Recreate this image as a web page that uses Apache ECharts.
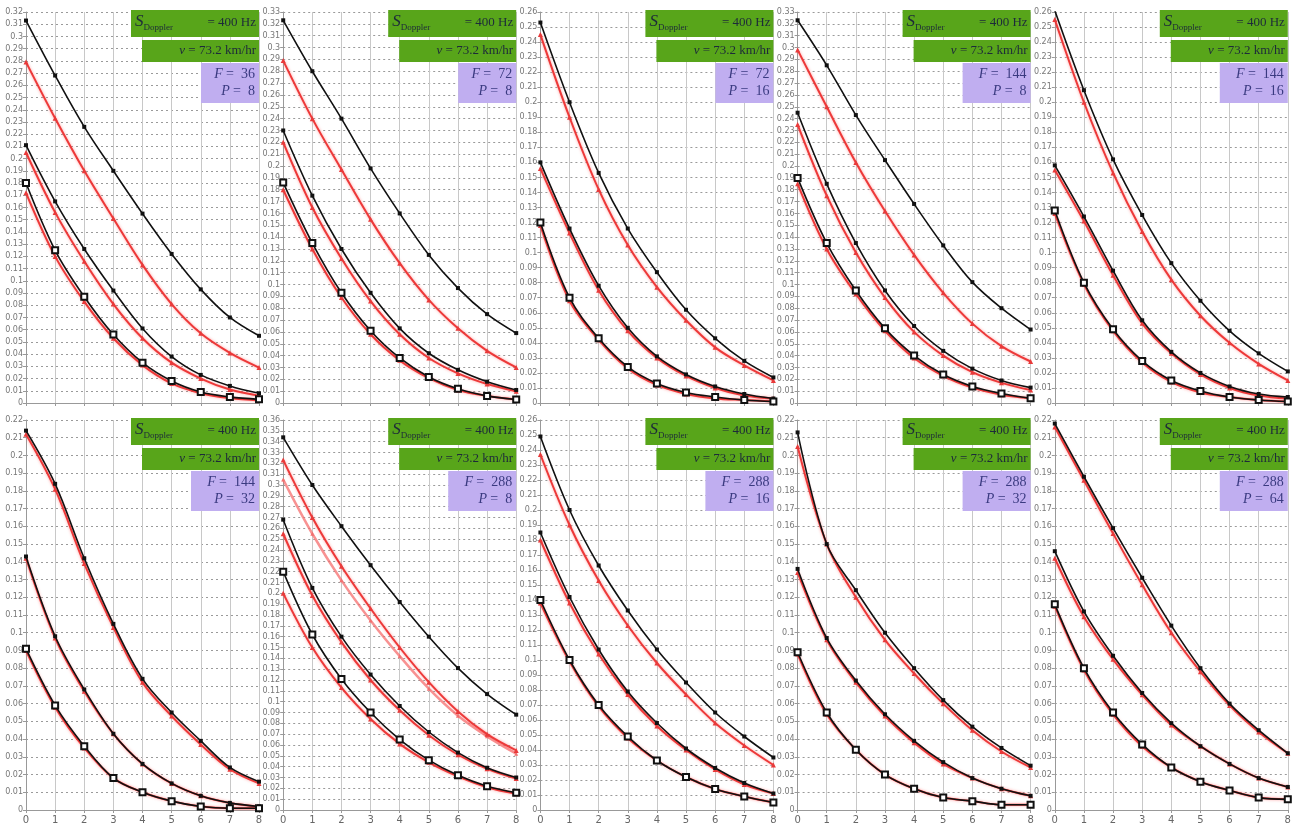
<!DOCTYPE html>
<html><head><meta charset="utf-8">
<script src="https://cdn.jsdelivr.net/npm/echarts@6/dist/echarts.min.js"></script>
<style>html,body{margin:0;padding:0;background:#fff}#c{width:1304px;height:827px}</style>
</head><body><div id="c"></div>
<script>
// x values (range index)
const xs = [0,1,2,3,4,5,6,7,8];
// panel parameters
const panelF = [36,72,72,144,144,144,288,288,288,288];
const panelP = [8,8,16,8,16,32,8,16,32,64];
const panelYMax = [0.32,0.33,0.26,0.33,0.26,0.22,0.36,0.26,0.22,0.22];
const sDoppler = '400 Hz';
const speed = '73.2 km/hr';

// Panel 1 (F=36, P=8)
const p1_black1 = [0.313,0.268,0.226,0.19,0.155,0.122,0.093,0.07,0.055];
const p1_red1   = [0.279,0.233,0.19,0.151,0.113,0.081,0.057,0.041,0.029];
const p1_black2 = [0.211,0.165,0.126,0.092,0.061,0.038,0.023,0.014,0.008];
const p1_red2   = [0.205,0.156,0.116,0.081,0.053,0.033,0.02,0.011,0.006];
const p1_black3 = [0.18,0.125,0.087,0.056,0.033,0.018,0.009,0.005,0.003];
const p1_red3   = [0.172,0.12,0.083,0.053,0.031,0.016,0.008,0.004,0.002];
// Panel 2 (F=72, P=8)
const p2_black1 = [0.323,0.28,0.24,0.198,0.16,0.125,0.097,0.075,0.059];
const p2_red1   = [0.289,0.24,0.197,0.155,0.118,0.087,0.063,0.044,0.03];
const p2_black2 = [0.23,0.175,0.13,0.093,0.063,0.042,0.028,0.018,0.011];
const p2_red2   = [0.22,0.165,0.122,0.086,0.058,0.038,0.025,0.016,0.01];
const p2_black3 = [0.186,0.135,0.093,0.061,0.038,0.022,0.012,0.006,0.003];
const p2_red3   = [0.18,0.13,0.089,0.058,0.036,0.021,0.011,0.006,0.003];
// Panel 3 (F=72, P=16)
const p3_black1 = [0.253,0.2,0.153,0.116,0.087,0.062,0.043,0.028,0.017];
const p3_red1   = [0.245,0.19,0.142,0.105,0.077,0.055,0.037,0.025,0.015];
const p3_black2 = [0.16,0.116,0.078,0.05,0.031,0.019,0.011,0.006,0.003];
const p3_red2   = [0.156,0.113,0.075,0.048,0.03,0.018,0.01,0.005,0.003];
const p3_black3 = [0.12,0.07,0.043,0.024,0.013,0.007,0.004,0.002,0.001];
const p3_red3   = [0.118,0.068,0.042,0.023,0.012,0.006,0.003,0.002,0.001];
// Panel 4 (F=144, P=8)
const p4_black1 = [0.323,0.285,0.243,0.205,0.168,0.133,0.102,0.08,0.062];
const p4_red1   = [0.298,0.25,0.203,0.162,0.125,0.093,0.067,0.048,0.035];
const p4_black2 = [0.245,0.185,0.135,0.095,0.065,0.044,0.029,0.019,0.013];
const p4_red2   = [0.235,0.175,0.127,0.089,0.06,0.04,0.026,0.017,0.011];
const p4_black3 = [0.19,0.135,0.095,0.063,0.04,0.024,0.014,0.008,0.004];
const p4_red3   = [0.185,0.13,0.092,0.061,0.038,0.023,0.013,0.007,0.004];
// Panel 5 (F=144, P=16)
const p5_black1 = [0.261,0.208,0.162,0.125,0.093,0.068,0.048,0.033,0.021];
const p5_red1   = [0.255,0.2,0.153,0.114,0.082,0.058,0.04,0.026,0.015];
const p5_black2 = [0.158,0.124,0.088,0.055,0.034,0.02,0.011,0.006,0.004];
const p5_red2   = [0.155,0.121,0.085,0.053,0.033,0.019,0.01,0.005,0.003];
const p5_black3 = [0.128,0.08,0.049,0.028,0.015,0.008,0.004,0.002,0.001];
const p5_red3   = [0.126,0.079,0.048,0.027,0.014,0.007,0.004,0.002,0.001];
// Panel 6 (F=144, P=32)
const p6_black1 = [0.214,0.184,0.142,0.105,0.074,0.055,0.039,0.024,0.016];
const p6_red1   = [0.212,0.181,0.139,0.103,0.072,0.053,0.037,0.023,0.015];
const p6_black2 = [0.143,0.098,0.068,0.043,0.026,0.015,0.008,0.004,0.002];
const p6_red2   = [0.142,0.097,0.067,0.043,0.026,0.015,0.008,0.004,0.002];
const p6_black3 = [0.091,0.059,0.036,0.018,0.01,0.005,0.002,0.001,0.001];
const p6_red3   = [0.09,0.058,0.035,0.018,0.01,0.005,0.002,0.001,0.001];
// Panel 7 (F=288, P=8)
const p7_black1 = [0.344,0.3,0.262,0.226,0.192,0.16,0.131,0.107,0.088];
const p7_red1   = [0.323,0.27,0.225,0.186,0.15,0.118,0.091,0.07,0.055];
const p7_red1b  = [0.305,0.255,0.212,0.175,0.142,0.112,0.087,0.068,0.052];
const p7_black2 = [0.268,0.205,0.16,0.125,0.096,0.072,0.053,0.039,0.03];
const p7_red2   = [0.255,0.198,0.155,0.12,0.092,0.069,0.051,0.038,0.029];
const p7_black3 = [0.22,0.162,0.121,0.09,0.065,0.046,0.032,0.022,0.016];
const p7_red3   = [0.2,0.15,0.113,0.084,0.061,0.044,0.031,0.021,0.015];
// Panel 8 (F=288, P=16)
const p8_black1 = [0.249,0.2,0.163,0.133,0.107,0.085,0.065,0.049,0.035];
const p8_red1   = [0.237,0.19,0.153,0.123,0.098,0.077,0.058,0.043,0.03];
const p8_black2 = [0.185,0.142,0.107,0.079,0.058,0.041,0.028,0.018,0.011];
const p8_red2   = [0.18,0.138,0.104,0.077,0.056,0.04,0.027,0.017,0.011];
const p8_black3 = [0.14,0.1,0.07,0.049,0.033,0.022,0.014,0.009,0.005];
const p8_red3   = [0.138,0.099,0.069,0.048,0.033,0.022,0.014,0.009,0.005];
// Panel 9 (F=288, P=32)
const p9_black1 = [0.213,0.15,0.124,0.1,0.08,0.062,0.047,0.035,0.025];
const p9_red1   = [0.205,0.15,0.12,0.096,0.077,0.06,0.045,0.033,0.024];
const p9_black2 = [0.136,0.097,0.073,0.054,0.039,0.027,0.018,0.012,0.008];
const p9_red2   = [0.134,0.096,0.072,0.053,0.038,0.026,0.018,0.012,0.008];
const p9_black3 = [0.089,0.055,0.034,0.02,0.012,0.007,0.005,0.003,0.003];
const p9_red3   = [0.088,0.054,0.034,0.02,0.012,0.007,0.005,0.003,0.003];
// Panel 10 (F=288, P=64)
const p10_black1 = [0.218,0.188,0.159,0.131,0.104,0.08,0.06,0.045,0.032];
const p10_red1   = [0.216,0.186,0.156,0.127,0.1,0.078,0.059,0.044,0.032];
const p10_black2 = [0.146,0.112,0.087,0.066,0.049,0.036,0.026,0.018,0.013];
const p10_red2   = [0.142,0.109,0.085,0.065,0.048,0.036,0.026,0.018,0.013];
const p10_black3 = [0.116,0.08,0.055,0.037,0.024,0.016,0.011,0.007,0.006];
const p10_red3   = [0.115,0.079,0.054,0.036,0.024,0.016,0.011,0.007,0.006];

const panels = [
  [p1_black1,p1_red1,p1_black2,p1_red2,p1_black3,p1_red3],
  [p2_black1,p2_red1,p2_black2,p2_red2,p2_black3,p2_red3],
  [p3_black1,p3_red1,p3_black2,p3_red2,p3_black3,p3_red3],
  [p4_black1,p4_red1,p4_black2,p4_red2,p4_black3,p4_red3],
  [p5_black1,p5_red1,p5_black2,p5_red2,p5_black3,p5_red3],
  [p6_black1,p6_red1,p6_black2,p6_red2,p6_black3,p6_red3],
  [p7_black1,p7_red1,p7_black2,p7_red2,p7_black3,p7_red3],
  [p8_black1,p8_red1,p8_black2,p8_red2,p8_black3,p8_red3],
  [p9_black1,p9_red1,p9_black2,p9_red2,p9_black3,p9_red3],
  [p10_black1,p10_red1,p10_black2,p10_red2,p10_black3,p10_red3]
];
const extraRed = {6: [p7_red1b]};

const chart = echarts.init(document.getElementById('c'), null, {renderer:'canvas'});
const grids=[], xAxes=[], yAxes=[], series=[], graphics=[];
const colW = 257.2, plotW = 233;
const redLine = {color:'rgba(236,45,45,0.92)', width:2, shadowColor:'rgba(255,110,110,0.7)', shadowBlur:3};
panels.forEach((sets, i) => {
  const col = i % 5, row = Math.floor(i / 5);
  const ox = col * colW, oy = row === 0 ? 0 : 408;
  const top = row === 0 ? 12 : 420;
  const h = row === 0 ? 391 : 390;
  grids.push({left: ox + 26, top: top, width: plotW, height: h});
  xAxes.push({type:'value', gridIndex:i, min:0, max:8, interval:1,
    axisLine:{show:true, onZero:false, lineStyle:{color:'#999', width:1}},
    axisTick:{show:true, length:3, lineStyle:{color:'#999'}},
    axisLabel:{show: row===1, fontSize:10, color:'#666', margin:5, fontFamily:'DejaVu Sans'},
    splitLine:{show:true, lineStyle:{color:'#c8c8c8', width:1}}});
  yAxes.push({type:'value', gridIndex:i, min:0, max:panelYMax[i], interval:0.01,
    axisLine:{show:true, lineStyle:{color:'#999', width:1}},
    axisTick:{show:true, length:3, lineStyle:{color:'#999'}},
    axisLabel:{show:true, fontSize:8, color:'#777', margin:3, fontFamily:'DejaVu Sans',
      formatter: v => String(+v.toFixed(2))},
    splitLine:{show:true, lineStyle:{color:'#9a9a9a', width:1, type:[2,3]}}});
  (extraRed[i] || []).forEach(arr => {
    series.push({type:'line', xAxisIndex:i, yAxisIndex:i, smooth:0.35, z:2,
      data: xs.map((x, j) => [x, arr[j]]), symbol:'triangle', symbolSize:4,
      itemStyle:{color:'#f07070'}, lineStyle:{color:'rgba(245,110,110,0.75)', width:2.5}, animation:false});
  });
  sets.forEach((arr, k) => {
    const isRed = k % 2 === 1;
    const lowest = k === 4;
    series.push({type:'line', xAxisIndex:i, yAxisIndex:i, smooth:0.35, z: isRed ? 3 : 4,
      data: xs.map((x, j) => [x, arr[j]]),
      symbol: isRed ? 'triangle' : (lowest ? 'emptyRect' : 'rect'),
      symbolSize: isRed ? 5 : (lowest ? 6 : 4),
      itemStyle: isRed ? {color:'#e83a3a'} : {color:'#111', borderWidth: lowest ? 1.5 : 0},
      lineStyle: isRed ? redLine : {color:'#111', width:1.6},
      animation:false});
  });
  // annotation boxes
  const bx = ox + plotW + 26;
  const by = oy + 10;
  graphics.push({type:'rect', shape:{x: ox+131, y: by, width: bx-(ox+131), height:27}, style:{fill:'#58a51a'}, z:10});
  graphics.push({type:'text', x: ox+135, y: by+1, z:11, style:{
    rich:{s:{fontSize:17, fontStyle:'italic', fontFamily:'Liberation Serif', fill:'#1d2a3a'},
          sub:{fontSize:9, fontFamily:'Liberation Serif', fill:'#1d2a3a', padding:[12,0,0,0]}},
    text:'{s|S}{sub|Doppler}'}});
  graphics.push({type:'text', x: bx-3, y: by+6, z:11, style:{text:'= ' + sDoppler, fontSize:13, fontFamily:'Liberation Serif', fill:'#1d2a3a', align:'right'}});
  graphics.push({type:'rect', shape:{x: ox+142, y: by+30, width: bx-(ox+142), height:22}, style:{fill:'#58a51a'}, z:10});
  graphics.push({type:'text', x: bx-3, y: by+34, z:11, style:{
    rich:{v:{fontSize:13, fontStyle:'italic', fontFamily:'Liberation Serif', fill:'#1d2a3a'},
          t:{fontSize:13, fontFamily:'Liberation Serif', fill:'#1d2a3a'}},
    text:'{v|v} {t|= ' + speed + '}', align:'right'}});
  const pw = String(panelF[i]).length > 2 ? 68 : 58;
  graphics.push({type:'rect', shape:{x: bx-pw, y: by+53, width: pw, height:40}, style:{fill:'#c0aef0'}, z:10});
  graphics.push({type:'text', x: bx-4, y: by+56, z:11, style:{
    rich:{v:{fontSize:14, fontStyle:'italic', fontFamily:'Liberation Serif', fill:'#3a3a80'},
          t:{fontSize:14, fontFamily:'Liberation Serif', fill:'#3a3a80'}},
    text:'{v|F} {t|=  ' + panelF[i] + '}\n{v|P} {t|=  ' + panelP[i] + '}', align:'right', lineHeight:17}});
});

chart.setOption({animation:false, grid:grids, xAxis:xAxes, yAxis:yAxes, series:series, graphic:graphics});
</script></body></html>
